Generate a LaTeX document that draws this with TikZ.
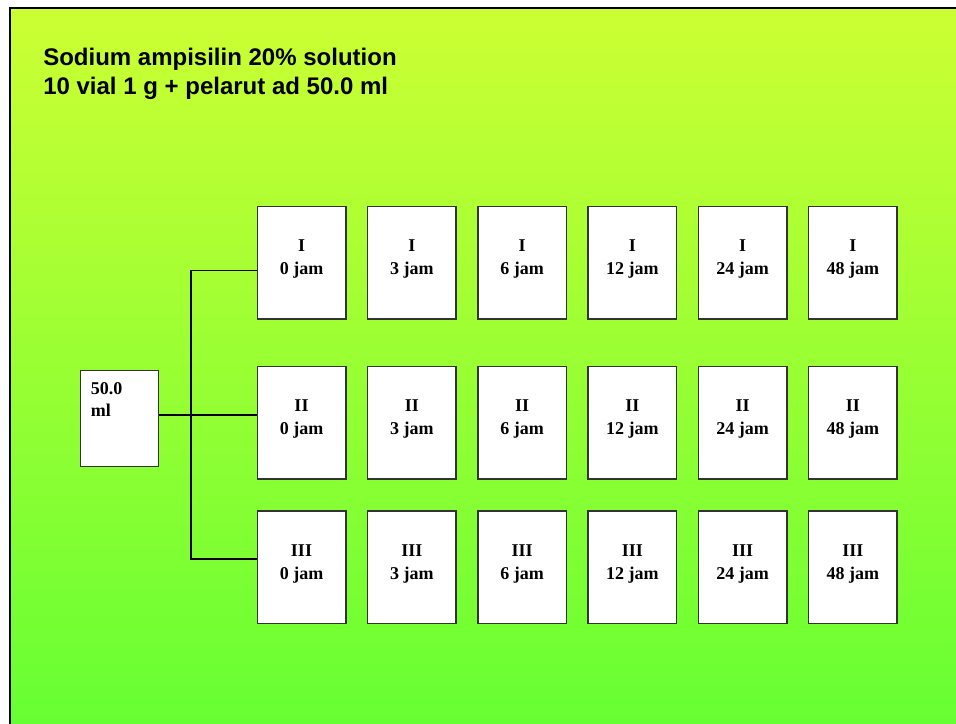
\documentclass[tikz,border=0pt]{standalone}
\usepackage{fontspec}
\setmainfont{Liberation Serif}
\newfontfamily\titlefont{Liberation Sans}
\usetikzlibrary{calc}
\definecolor{slidetop}{RGB}{204,255,51}
\definecolor{slidebot}{RGB}{102,255,51}
\definecolor{boxline}{RGB}{51,51,51}
\begin{document}
\begin{tikzpicture}[x=0.75pt,y=-0.75pt,
  vbox/.style={draw=boxline,line width=1.1pt,fill=white,minimum width=66.4pt,minimum height=84.2pt,inner sep=0pt},
  lbl/.style={anchor=base,inner sep=0pt,font=\bfseries\fontsize{13.5}{16}\selectfont},
  title/.style={anchor=base west,inner sep=0pt,font=\titlefont\bfseries\fontsize{18}{21.6}\selectfont},
  wire/.style={draw=black,line width=0.8pt}]
\useasboundingbox (0,0) rectangle (956,724);
\fill[white] (0,0) rectangle (956,724);
\shade[top color=slidetop,bottom color=slidebot] (10,8) rectangle (956,724);
\draw[line width=1.5pt] (10,724) -- (10,8) -- (956,8);

\node[title] (t1) at (43,65.7) {Sodium ampisilin 20\% solution};
\node[title] (t2) at (43,94.3) {10 vial 1 g + pelarut ad 50.0 ml};

\node[vbox,minimum width=58.2pt,minimum height=72pt] (src) at (119.5,418.7) {};
\node[lbl,anchor=base west] (s1) at (90.7,394) {50.0};
\node[lbl,anchor=base west] (s2) at (90.7,416) {ml};

\foreach \r/\rn/\yc in {1/I/262.8, 2/II/422.8, 3/III/567.2} {
  \foreach \c/\h in {0/0,1/3,2/6,3/12,4/24,5/48} {
    \pgfmathsetmacro\xc{301.5+110.27*\c}
    \node[vbox] (b\r\c) at (\xc,\yc) {};
    \node[lbl] (l\r\c) at ($(b\r\c.north)+(0,46)$) {\rn};
    \node[lbl] (m\r\c) at ($(b\r\c.north)+(0,69)$) {\h\ jam};
  }
}

\coordinate (jt) at (191,270.7);
\coordinate (jm) at (191,415);
\coordinate (jb) at (191,559);
\draw[wire] (src.east |- jm) -- (b20.west |- jm);
\draw[wire] (b10.west |- jt) -- (jt) -- (jb) -- (b30.west |- jb);
\end{tikzpicture}
\end{document}
